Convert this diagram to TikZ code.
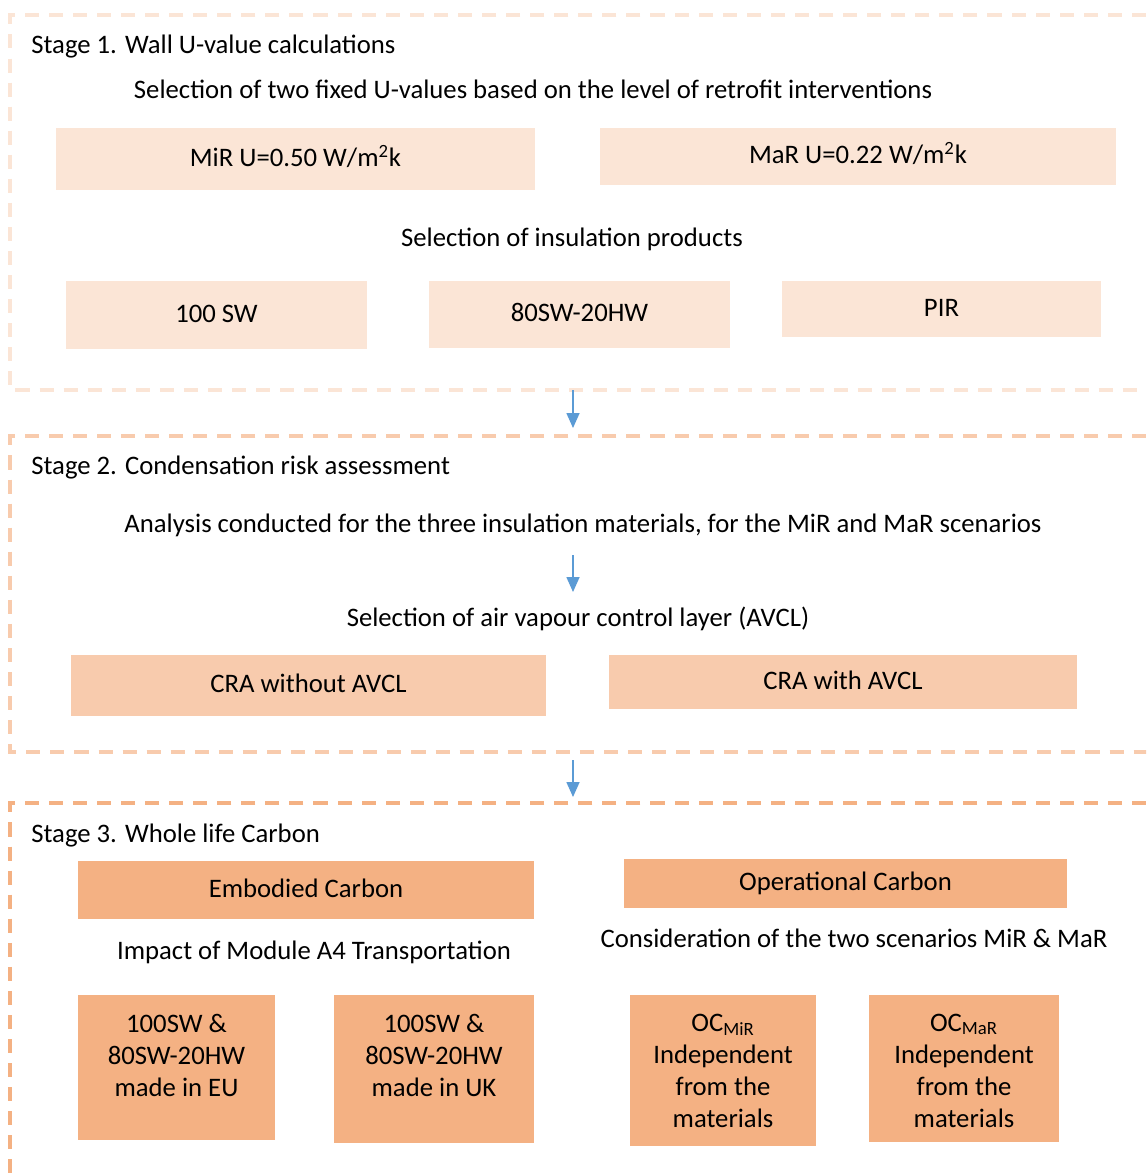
\documentclass[tikz,border=0pt]{standalone}
\usepackage{fontspec}
\setmainfont{Carlito}
\usetikzlibrary{arrows.meta}

\definecolor{peachA}{HTML}{FBE5D6}
\definecolor{peachB}{HTML}{F8CBAD}
\definecolor{peachC}{HTML}{F4B183}
\definecolor{arrowblue}{HTML}{5B9BD5}

\tikzset{
	txt/.style={font=\fontsize{15.2}{18.2}\selectfont, inner sep=0pt},
	box/.style 2 args={minimum width=#1*0.02cm, minimum height=#2*0.02cm, inner sep=0pt, draw=none, txt, text height=1.05em, text depth=0.2em},
	frame/.style={line width=2.1pt, dash pattern=on 8pt off 5.7pt},
	flow/.style={arrowblue, line width=0.8pt, -{Triangle[width=7.4pt,length=8.5pt]}}
}

\begin{document}
\begin{tikzpicture}[x=0.02cm, y=-0.02cm]
\clip (0, 0) rectangle (1146, 1173);
\fill[white] (0, 0) rectangle (1146, 1173);

% stage frames
\draw[frame, peachA] (1170, 15) -- (10, 15) -- (10, 390) -- (1170, 390);
\draw[frame, peachB] (1170, 436) -- (10, 436) -- (10, 752) -- (1170, 752);
\draw[frame, peachC] (1170, 803) -- (10, 803) -- (10, 1190);

% stage 1
\node[txt, anchor=west] (st1) at (31, 46.5) {Stage 1. Wall U-value calculations};
\node[txt] (sel1) at (533, 89) {Selection of two fixed U-values based on the level of retrofit interventions};
\node[box={479}{62}, fill=peachA] (mir) at (295.5, 159) {MiR U=0.50 W/m\textsuperscript{2}k};
\node[box={516}{57}, fill=peachA] (mar) at (858, 156.5) {MaR U=0.22 W/m\textsuperscript{2}k};
\node[txt] (sel2) at (572, 239) {Selection of insulation products};
\node[box={301}{68}, fill=peachA] (sw) at (216.5, 315) {100 SW};
\node[box={301}{67}, fill=peachA] (swhw) at (579.5, 314.5) {80SW-20HW};
\node[box={319}{56}, fill=peachA] (pir) at (941.5, 309) {PIR};

% stage 2
\node[txt, anchor=west] (st2) at (31, 467.5) {Stage 2. Condensation risk assessment};
\node[txt] (ana) at (583, 525) {Analysis conducted for the three insulation materials, for the MiR and MaR scenarios};
\node[txt] (avcl) at (578, 619) {Selection of air vapour control layer (AVCL)};
\node[box={475}{61}, fill=peachB] (cra1) at (308.5, 685.5) {CRA without AVCL};
\node[box={468}{54}, fill=peachB] (cra2) at (843, 682) {CRA with AVCL};

% stage 3
\node[txt, anchor=west] (st3) at (31, 835.5) {Stage 3. Whole life Carbon};
\node[box={456}{58}, fill=peachC] (ec) at (306, 890) {Embodied Carbon};
\node[box={443}{49}, fill=peachC] (oc) at (845.5, 883.5) {Operational Carbon};
\node[txt] (a4) at (314, 952) {Impact of Module A4 Transportation};
\node[txt] (scen) at (854, 938) {Consideration of the two scenarios MiR \& MaR};

\node[box={197}{145}, fill=peachC] (eu) at (176.5, 1067.5) {};
\node[box={200}{148}, fill=peachC] (uk) at (434, 1069) {};
\node[box={186}{151}, fill=peachC] (ocmir) at (723, 1070.5) {};
\node[box={190}{147}, fill=peachC] (ocmar) at (964, 1068.5) {};
\node[txt, align=center, anchor=north] (eutxt) at (176.5, 1013.5) {100SW \&\\80SW-20HW\\made in EU};
\node[txt, align=center, anchor=north] (uktxt) at (434, 1013.5) {100SW \&\\80SW-20HW\\made in UK};
\node[txt, align=center, anchor=north] (mirtxt) at (723, 1013.5) {OC\textsubscript{MiR}\\Independent\\from the\\materials};
\node[txt, align=center, anchor=north] (martxt) at (964, 1013.5) {OC\textsubscript{MaR}\\Independent\\from the\\materials};

% connectors
\coordinate (s1out) at (573, 390);
\coordinate (s2in) at (573, 428);
\coordinate (anaout) at (573, 555);
\coordinate (avclin) at (573, 592);
\coordinate (s2out) at (573, 760);
\coordinate (s3in) at (573, 797);
\draw[flow] (s1out) -- (s2in);
\draw[flow] (anaout) -- (avclin);
\draw[flow] (s2out) -- (s3in);
\end{tikzpicture}
\end{document}
